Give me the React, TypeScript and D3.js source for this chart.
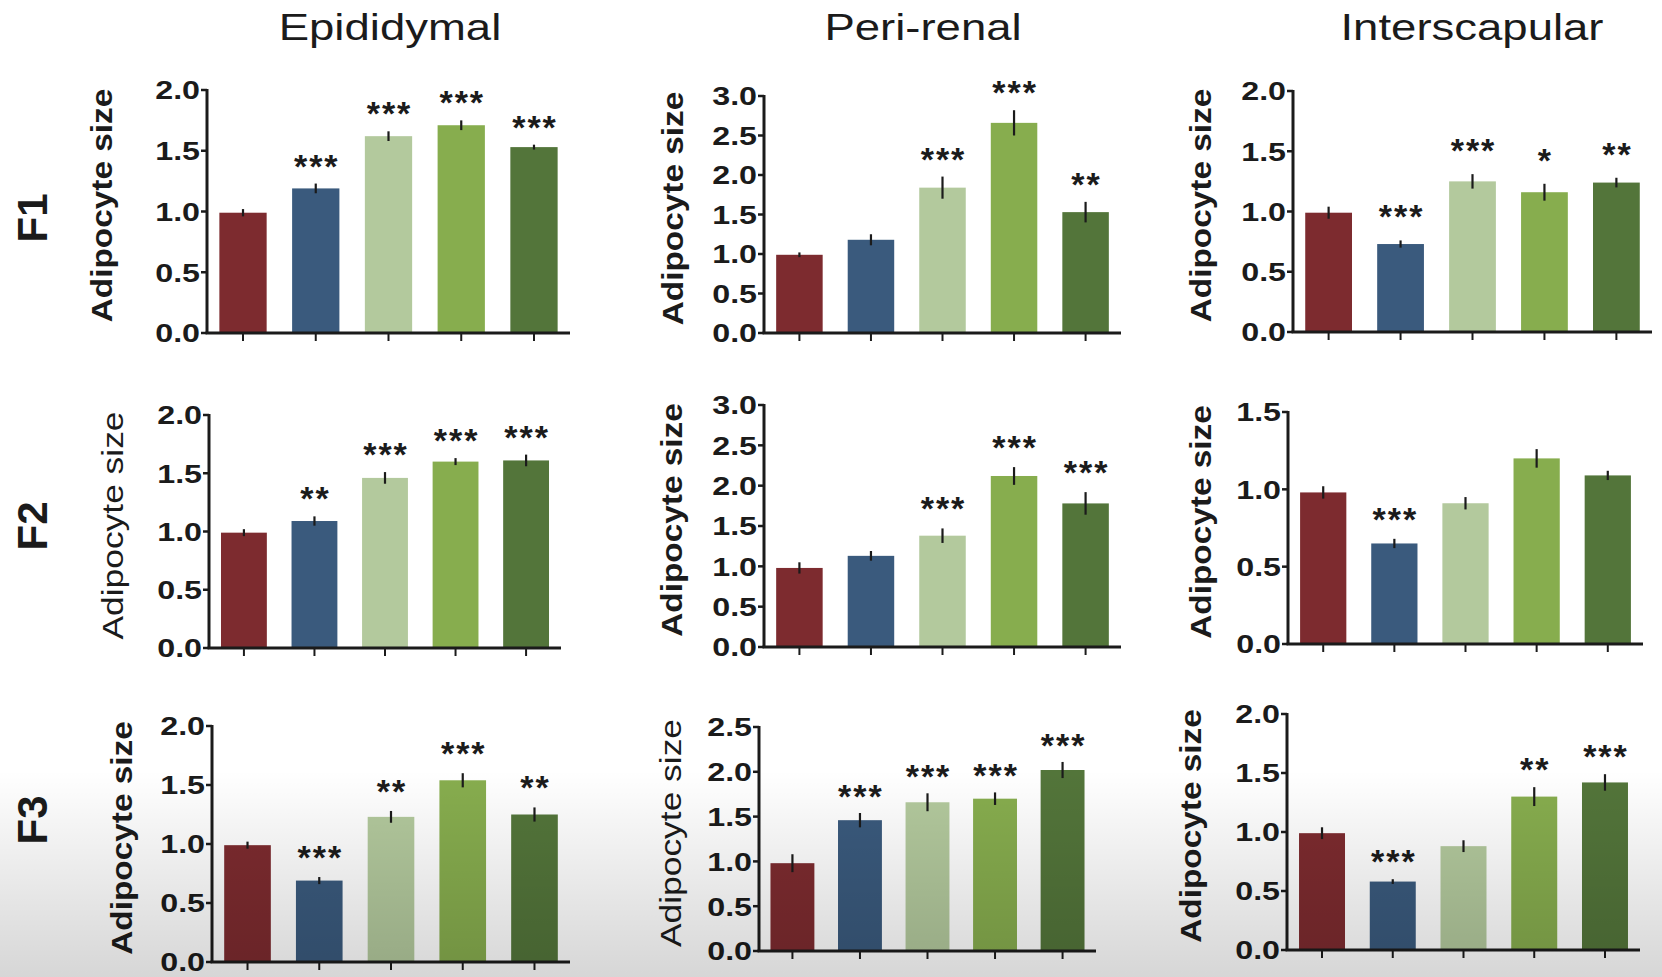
import React from 'react'
import * as d3 from 'd3'

// groups are unlabeled in the figure, only five coloured bars
const groups = ['G1', 'G2', 'G3', 'G4', 'G5']
const groupColors = ['#7d2b2f', '#3a5a7d', '#b3c99d', '#87ad4e', '#53753a']

const regions = ['Epididymal', 'Peri-renal', 'Interscapular']
const generations = ['F1', 'F2', 'F3']

// F1
const f1EpiMean = [0.99, 1.19, 1.62, 1.71, 1.53]
const f1EpiErr = [0.03, 0.04, 0.04, 0.04, 0.02]
const f1EpiSig = ['', '***', '***', '***', '***']
const f1PeriMean = [0.99, 1.18, 1.84, 2.66, 1.53]
const f1PeriErr = [0.03, 0.07, 0.14, 0.16, 0.13]
const f1PeriSig = ['', '', '***', '***', '**']
const f1InterMean = [0.99, 0.73, 1.25, 1.16, 1.24]
const f1InterErr = [0.05, 0.03, 0.06, 0.07, 0.04]
const f1InterSig = ['', '***', '***', '*', '**']

// F2
const f2EpiMean = [0.99, 1.09, 1.46, 1.6, 1.61]
const f2EpiErr = [0.03, 0.04, 0.05, 0.03, 0.05]
const f2EpiSig = ['', '**', '***', '***', '***']
const f2PeriMean = [0.98, 1.13, 1.38, 2.12, 1.78]
const f2PeriErr = [0.07, 0.06, 0.09, 0.11, 0.14]
const f2PeriSig = ['', '', '***', '***', '***']
const f2InterMean = [0.98, 0.65, 0.91, 1.2, 1.09]
const f2InterErr = [0.04, 0.03, 0.04, 0.06, 0.03]
const f2InterSig = ['', '***', '', '', '']

// F3
const f3EpiMean = [0.99, 0.69, 1.23, 1.54, 1.25]
const f3EpiErr = [0.03, 0.03, 0.05, 0.06, 0.06]
const f3EpiSig = ['', '***', '**', '***', '**']
const f3PeriMean = [0.98, 1.46, 1.66, 1.7, 2.02]
const f3PeriErr = [0.1, 0.08, 0.1, 0.07, 0.09]
const f3PeriSig = ['', '***', '***', '***', '***']
const f3InterMean = [0.99, 0.58, 0.88, 1.3, 1.42]
const f3InterErr = [0.05, 0.02, 0.05, 0.08, 0.07]
const f3InterSig = ['', '***', '', '**', '***']

const yMaxes = [
  [2, 3, 2],
  [2, 3, 1.5],
  [2, 2.5, 2]
]

const panels = [
  [
    {mean: f1EpiMean, err: f1EpiErr, sig: f1EpiSig},
    {mean: f1PeriMean, err: f1PeriErr, sig: f1PeriSig},
    {mean: f1InterMean, err: f1InterErr, sig: f1InterSig}
  ],
  [
    {mean: f2EpiMean, err: f2EpiErr, sig: f2EpiSig},
    {mean: f2PeriMean, err: f2PeriErr, sig: f2PeriSig},
    {mean: f2InterMean, err: f2InterErr, sig: f2InterSig}
  ],
  [
    {mean: f3EpiMean, err: f3EpiErr, sig: f3EpiSig},
    {mean: f3PeriMean, err: f3PeriErr, sig: f3PeriSig},
    {mean: f3InterMean, err: f3InterErr, sig: f3InterSig}
  ]
]

// layout of each panel in page pixels (starGap: space between error bar and stars)
const layout = [
  [
    {x0: 207, x1: 570, top: 90, bottom: 333, labelX: 112, bold: true, starGap: 6},
    {x0: 764, x1: 1121, top: 96, bottom: 333, labelX: 683, bold: true, starGap: 6},
    {x0: 1293, x1: 1652, top: 91, bottom: 332, labelX: 1211, bold: true, starGap: 12}
  ],
  [
    {x0: 209, x1: 561, top: 415, bottom: 648, labelX: 123, bold: false, starGap: 6},
    {x0: 764, x1: 1121, top: 405, bottom: 647, labelX: 682, bold: true, starGap: 8},
    {x0: 1288, x1: 1643, top: 412, bottom: 644, labelX: 1211, bold: true, starGap: 8}
  ],
  [
    {x0: 212, x1: 570, top: 726, bottom: 962, labelX: 132, bold: true, starGap: 8},
    {x0: 759, x1: 1096, top: 727, bottom: 951, labelX: 681, bold: false, starGap: 5},
    {x0: 1287, x1: 1640, top: 714, bottom: 950, labelX: 1201, bold: true, starGap: 6}
  ]
]
const titleX = [390, 923, 1472]
const rowLabelY = [218, 526, 820]

const FONT = '"Liberation Sans", Arial, Helvetica, sans-serif'
const INK = '#1b1b1b'

function T({x, y, rotate = 0, sx = 1, children, ...rest}) {
  return (
    <text
      transform={`translate(${x},${y}) rotate(${rotate}) scale(${sx},1)`}
      fontFamily={FONT}
      fill={INK}
      {...rest}
    >
      {children}
    </text>
  )
}

function Panel({data, box, yMax}) {
  const x = d3
    .scaleBand()
    .domain(groups)
    .range([box.x0, box.x1])
    .paddingInner(0.35)
    .paddingOuter(0.17)
  const y = d3.scaleLinear().domain([0, yMax]).range([box.bottom, box.top])
  const ticks = y.ticks(Math.round(yMax / 0.5))
  const fmt = d3.format('.1f')
  const midY = (box.top + box.bottom) / 2 - 6
  const cx = g => x(g) + x.bandwidth() / 2

  return (
    <g>
      {groups.map((g, i) => (
        <rect
          key={g}
          x={x(g)}
          y={y(data.mean[i])}
          width={x.bandwidth()}
          height={y(0) - y(data.mean[i])}
          fill={groupColors[i]}
        />
      ))}
      {groups.map((g, i) => (
        <line
          key={g}
          x1={cx(g)}
          x2={cx(g)}
          y1={y(data.mean[i] - data.err[i])}
          y2={y(data.mean[i] + data.err[i])}
          stroke={INK}
          strokeWidth={2.2}
        />
      ))}
      {groups.map((g, i) =>
        data.sig[i] ? (
          <T
            key={g}
            x={cx(g) + 1}
            y={y(data.mean[i] + data.err[i]) - box.starGap}
            textAnchor="middle"
            fontSize={34}
            fontWeight="bold"
            letterSpacing={2}
          >
            {data.sig[i]}
          </T>
        ) : null
      )}
      {/* y axis */}
      <line x1={box.x0} x2={box.x0} y1={y(yMax) - 1} y2={y(0)} stroke={INK} strokeWidth={3} />
      {ticks.map(t => (
        <g key={t}>
          <line x1={box.x0 - 6} x2={box.x0} y1={y(t)} y2={y(t)} stroke={INK} strokeWidth={2.5} />
          <T x={box.x0 - 7} y={y(t)} dy="0.36em" textAnchor="end" fontSize={26} fontWeight="bold" sx={1.24}>
            {fmt(t)}
          </T>
        </g>
      ))}
      {/* x axis */}
      <line x1={box.x0 - 1.5} x2={box.x1} y1={y(0)} y2={y(0)} stroke={INK} strokeWidth={3} />
      {groups.map(g => (
        <line key={g} x1={cx(g)} x2={cx(g)} y1={y(0)} y2={y(0) + 8} stroke={INK} strokeWidth={2} />
      ))}
      <T
        x={box.labelX}
        y={midY}
        rotate={-90}
        sx={box.bold ? 1.15 : 1.22}
        textAnchor="middle"
        fontSize={29}
        fontWeight={box.bold ? 'bold' : 'normal'}
      >
        Adipocyte size
      </T>
    </g>
  )
}

export default function App() {
  return (
    <svg
      width={1662}
      height={977}
      style={{position: 'absolute', left: 0, top: 0, background: '#fff'}}
    >
      <defs>
        <linearGradient id="shade" x1="0" y1="0" x2="0" y2="1">
          <stop offset="0%" stopColor="#000" stopOpacity={0} />
          <stop offset="100%" stopColor="#000" stopOpacity={0.16} />
        </linearGradient>
      </defs>
      <rect width={1662} height={977} fill="#fff" />
      {regions.map((r, c) => (
        <T key={r} x={titleX[c]} y={40} textAnchor="middle" fontSize={37} sx={1.23}>
          {r}
        </T>
      ))}
      {generations.map((g, r) => (
        <T key={g} x={47} y={rowLabelY[r]} rotate={-90} textAnchor="middle" fontSize={42} fontWeight="bold">
          {g}
        </T>
      ))}
      {panels.map((row, r) =>
        row.map((p, c) => (
          <Panel key={`${r}-${c}`} data={p} box={layout[r][c]} yMax={yMaxes[r][c]} />
        ))
      )}
      <rect x={0} y={770} width={1662} height={207} fill="url(#shade)" />
    </svg>
  )
}
